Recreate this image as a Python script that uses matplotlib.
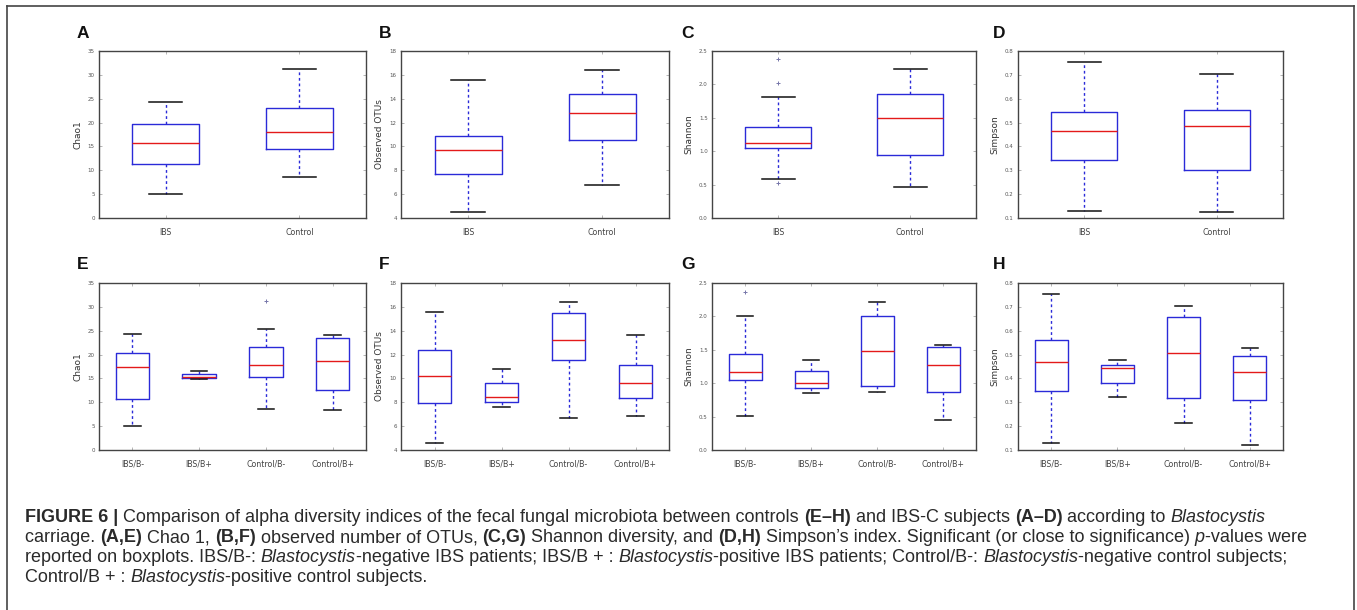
import matplotlib
matplotlib.use("Agg")
import matplotlib.pyplot as plt
from matplotlib.lines import Line2D

# --- DATOS ---
grupos_top = ["IBS", "Control"]
grupos_bottom = ["IBS/B-", "IBS/B+", "Control/B-", "Control/B+"]

# cada caja: [bigote inferior, Q1, mediana, Q3, bigote superior]
chao1_top = [[5.1, 11.3, 15.8, 19.8, 24.3], [8.6, 14.5, 18.0, 23.0, 31.3]]
chao1_top_fliers = [[], []]
otus_top = [[4.5, 7.7, 9.7, 10.9, 15.6], [6.8, 10.5, 12.8, 14.4, 16.4]]
otus_top_fliers = [[], []]
shannon_top = [[0.58, 1.05, 1.12, 1.36, 1.81], [0.47, 0.94, 1.50, 1.85, 2.23]]
shannon_top_fliers = [[2.38, 2.02, 0.52], []]
simpson_top = [[0.13, 0.345, 0.464, 0.545, 0.754], [0.124, 0.301, 0.487, 0.553, 0.703]]
simpson_top_fliers = [[], []]

chao1_bottom = [[5.0, 10.75, 17.3, 20.4, 24.3], [14.9, 15.0, 15.2, 15.9, 16.5],
                [8.65, 15.4, 17.85, 21.6, 25.4], [8.4, 12.65, 18.6, 23.4, 24.0]]
chao1_bottom_fliers = [[], [], [31.3], []]
otus_bottom = [[4.56, 7.92, 10.19, 12.4, 15.57], [7.58, 8.0, 8.42, 9.6, 10.83],
               [6.69, 11.56, 13.18, 15.45, 16.43], [6.83, 8.37, 9.63, 11.14, 13.6]]
otus_bottom_fliers = [[], [], [], []]
shannon_bottom = [[0.515, 1.05, 1.17, 1.43, 2.0], [0.86, 0.935, 1.01, 1.185, 1.34],
                  [0.87, 0.96, 1.48, 2.0, 2.21], [0.45, 0.875, 1.265, 1.535, 1.57]]
shannon_bottom_fliers = [[2.365], [], [], []]
simpson_bottom = [[0.128, 0.348, 0.467, 0.561, 0.752], [0.323, 0.38, 0.444, 0.456, 0.478],
                  [0.215, 0.316, 0.505, 0.656, 0.703], [0.122, 0.31, 0.429, 0.493, 0.527]]
simpson_bottom_fliers = [[], [], [], []]

# --- FIGURA ---
W, H = 1357, 610
fig = plt.figure(figsize=(W / 100, H / 100), dpi=100)


def px(x, y):
    """pixeles (desde arriba a la izquierda) -> fraccion de figura"""
    return x / W, 1 - y / H


AZUL = "#2a2ad8"
ROJO = "#e41a1a"
GRIS = "#555555"

lefts = [99, 401, 712, 1018]
widths = [267, 268, 264, 265]
tops = [51, 283]
alto = 167
letras_x = [77, 379, 681, 993]
letras_y = [34, 265]

paneles = [
    ("A", chao1_top, chao1_top_fliers, grupos_top, "Chao1", (0, 35), range(0, 36, 5), "%d"),
    ("B", otus_top, otus_top_fliers, grupos_top, "Observed OTUs", (4, 18), range(4, 19, 2), "%d"),
    ("C", shannon_top, shannon_top_fliers, grupos_top, "Shannon", (0, 2.5), [0, 0.5, 1, 1.5, 2, 2.5], "%.1f"),
    ("D", simpson_top, simpson_top_fliers, grupos_top, "Simpson", (0.1, 0.8), [0.1, 0.2, 0.3, 0.4, 0.5, 0.6, 0.7, 0.8], "%.1f"),
    ("E", chao1_bottom, chao1_bottom_fliers, grupos_bottom, "Chao1", (0, 35), range(0, 36, 5), "%d"),
    ("F", otus_bottom, otus_bottom_fliers, grupos_bottom, "Observed OTUs", (4, 18), range(4, 19, 2), "%d"),
    ("G", shannon_bottom, shannon_bottom_fliers, grupos_bottom, "Shannon", (0, 2.5), [0, 0.5, 1, 1.5, 2, 2.5], "%.1f"),
    ("H", simpson_bottom, simpson_bottom_fliers, grupos_bottom, "Simpson", (0.1, 0.8), [0.1, 0.2, 0.3, 0.4, 0.5, 0.6, 0.7, 0.8], "%.1f"),
]

for i, (letra, cajas, fliers, grupos, ylabel, ylim, yticks, fmt) in enumerate(paneles):
    fila, col = divmod(i, 4)
    x0, y1 = px(lefts[col], tops[fila] + alto)
    ax = fig.add_axes([x0, y1, widths[col] / W, alto / H])

    stats = []
    for c, f, g in zip(cajas, fliers, grupos):
        stats.append(dict(whislo=c[0], q1=c[1], med=c[2], q3=c[3], whishi=c[4],
                          fliers=f, label=g))
    ax.bxp(stats, positions=list(range(1, len(grupos) + 1)), widths=0.5,
           boxprops=dict(color=AZUL, lw=1.0),
           medianprops=dict(color=ROJO, lw=1.0),
           whiskerprops=dict(color=AZUL, lw=1.0, ls=(0, (2, 2))),
           capprops=dict(color="#111111", lw=1.1),
           flierprops=dict(marker="+", markeredgecolor="#7777aa", markersize=3.5,
                           markeredgewidth=0.7, ls="none"))

    ax.set_xlim(0.5, len(grupos) + 0.5)
    ax.set_ylim(*ylim)
    ax.set_yticks(list(yticks))
    ax.set_yticklabels([fmt % v for v in yticks])
    ax.tick_params(axis="y", direction="in", right=True, length=2.5, width=0.5,
                   labelsize=4, colors="#999999", pad=3)
    ax.tick_params(axis="x", direction="in", top=True, length=2.5, width=0.5,
                   labelsize=5.7, colors="#999999", pad=7)
    for lab in ax.get_yticklabels():
        lab.set_color(GRIS)
    for lab in ax.get_xticklabels():
        lab.set_color("#444444")
    for s in ax.spines.values():
        s.set_color("#444444")
        s.set_linewidth(1.0)
    ax.set_ylabel(ylabel, fontsize=6.5, color="#333333", labelpad=4)

    lx, ly = px(letras_x[col], letras_y[fila])
    fig.text(lx, ly, letra, fontsize=12.5, fontweight="bold", family="Liberation Sans",
             ha="left", va="center", color="#111111")

# --- MARCO ---
borde = "#444444"
for (xa, ya), (xb, yb) in [((7, 6), (1354, 6)), ((7, 6), (7, 610)), ((1354, 6), (1354, 610))]:
    a = px(xa, ya)
    b = px(xb, yb)
    fig.add_artist(Line2D([a[0], b[0]], [a[1], b[1]], transform=fig.transFigure,
                          color=borde, lw=1.2))

# --- LEYENDA DE LA FIGURA ---
lineas = [
    [("FIGURE 6 | ", "b"),
     ("Comparison of alpha diversity indices of the fecal fungal microbiota between controls ", "n"),
     ("(E–H)", "b"), (" and IBS-C subjects ", "n"), ("(A–D)", "b"), (" according to ", "n"),
     ("Blastocystis", "i")],
    [("carriage. ", "n"), ("(A,E)", "b"), (" Chao 1, ", "n"), ("(B,F)", "b"),
     (" observed number of OTUs, ", "n"), ("(C,G)", "b"), (" Shannon diversity, and ", "n"),
     ("(D,H)", "b"), (" Simpson’s index. Significant (or close to significance) ", "n"),
     ("p", "i"), ("-values were", "n")],
    [("reported on boxplots. IBS/B-: ", "n"), ("Blastocystis", "i"),
     ("-negative IBS patients; IBS/B + : ", "n"), ("Blastocystis", "i"),
     ("-positive IBS patients; Control/B-: ", "n"), ("Blastocystis", "i"),
     ("-negative control subjects;", "n")],
    [("Control/B + : ", "n"), ("Blastocystis", "i"), ("-positive control subjects.", "n")],
]

renderer = fig.canvas.get_renderer()
FAM = "Liberation Sans"


def kw_estilo(estilo):
    if estilo == "b":
        return dict(fontweight="bold")
    if estilo == "i":
        return dict(fontstyle="italic")
    return {}


def ancho(txt, estilo, size):
    t = fig.text(0, 0, "I" + txt + "I", fontsize=size, family=FAM, **kw_estilo(estilo))
    t2 = fig.text(0, 0, "II", fontsize=size, family=FAM, **kw_estilo(estilo))
    w = t.get_window_extent(renderer).width - t2.get_window_extent(renderer).width
    t.remove()
    t2.remove()
    return w


# ajustar tamano para que la primera linea ocupe lo mismo que en el original
base = 10.0
w1 = sum(ancho(t, e, base) for t, e in lineas[0])
size = base * 1248 / w1

for k, segs in enumerate(lineas):
    x = 25
    y = 518 + 20 * k
    for txt, estilo in segs:
        fx, fy = px(x, y)
        fig.text(fx, fy, txt, fontsize=size, family=FAM, va="center", ha="left",
                 color="#2a2a2a", **kw_estilo(estilo))
        x += ancho(txt, estilo, size)

fig.savefig("out.png", dpi=100)
